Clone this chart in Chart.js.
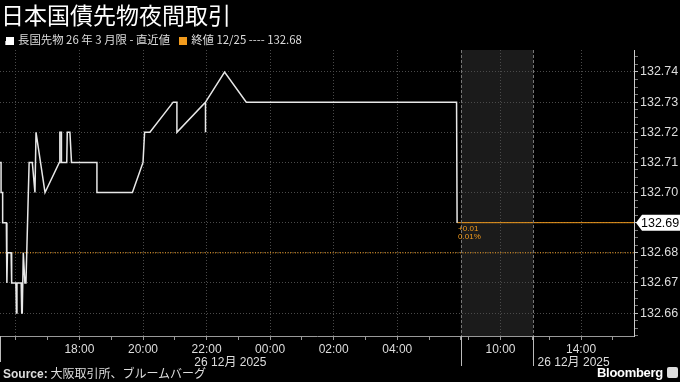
<!DOCTYPE html>
<html>
<head>
<meta charset="utf-8">
<script src="https://cdn.jsdelivr.net/npm/chart.js@4.4.1/dist/chart.umd.min.js"></script>
<style>
  html, body { margin:0; padding:0; background:#000; }
  #wrap { position:relative; width:680px; height:382px; overflow:hidden; background:#000; }
  #stage { position:absolute; left:0; top:0; }
  #title { position:absolute; left:1px; top:0px; font-family:"Noto Sans CJK JP", sans-serif; font-size:23px; line-height:28px; color:#fff; white-space:nowrap; }
  #legend { position:absolute; left:3px; top:32px; font-family:"Noto Sans CJK JP", sans-serif; font-size:11.4px; line-height:15px; color:#ddd; white-space:nowrap; }
  #legend .ic1 { display:inline-block; width:8px; height:8px; background:#fff; margin:0 4px 0 3px; vertical-align:-1px; box-shadow:-3px 2px 0 -2px #aaa; }
  #legend .ic2 { display:inline-block; width:8px; height:8px; background:#f29b1d; margin:0 4px 0 9px; vertical-align:-1px; }
  #source { position:absolute; left:3px; top:366px; font-family:"Noto Sans CJK JP", sans-serif; font-size:12px; line-height:14px; color:#ddd; white-space:nowrap; }
  #source b { font-family:"Liberation Sans", Arial, sans-serif; font-weight:bold; }
  #bbg { position:absolute; left:597px; top:365px; font-family:"Liberation Sans", Arial, sans-serif; font-weight:bold; font-size:13px; line-height:16px; color:#fff; letter-spacing:-0.3px; }
  #bbg span { display:inline-block; width:11px; height:11px; background:#ddd; border-radius:2px; margin-left:4px; vertical-align:-1px; }
</style>
</head>
<body>
<div id="wrap">
  <canvas id="stage" width="680" height="382"></canvas>
  <div id="title">日本国債先物夜間取引</div>
  <div id="legend"><span class="ic1"></span>長国先物 26 年 3 月限 - 直近値<span class="ic2"></span>終値 12/25 ---- 132.68</div>
  <div id="source"><b>Source:</b> 大阪取引所、ブルームバーグ</div>
  <div id="bbg">Bloomberg<span></span></div>
</div>
<script>
// データ（夜間取引 12/25 15:30 〜 12/26 06:00）
var times = ['15:30','15:32','15:32','15:35','15:35','15:42','15:43','15:44','15:51','15:52',
             '16:00','16:01','16:02','16:10','16:11','16:12','16:14','16:15','16:17','16:19',
             '16:25','16:31','16:36','16:38','16:55','17:22','17:23','17:26','17:26','17:36',
             '17:37','17:42','17:45','18:33','18:33','19:40','20:00','20:03','20:13','20:57',
             '21:04','21:04','21:58','21:58','21:58','22:34','23:15','05:52','05:53'];
var values = [132.71,132.71,132.70,132.70,132.69,132.69,132.67,132.68,132.68,132.67,
              132.67,132.66,132.67,132.67,132.66,132.66,132.68,132.68,132.67,132.67,
              132.71,132.71,132.70,132.72,132.70,132.71,132.72,132.72,132.71,132.71,
              132.72,132.72,132.71,132.71,132.70,132.70,132.71,132.72,132.72,132.73,
              132.73,132.72,132.73,132.72,132.73,132.74,132.73,132.73,132.69];
var prevClose = 132.68;   // 終値 12/25

// 軸
var yTicks = [132.66,132.67,132.68,132.69,132.70,132.71,132.72,132.73,132.74];
var yMin = 132.6524, yMax = 132.7473;
var nightTickTimes = ['16:00','17:00','18:00','19:00','20:00','21:00','22:00','23:00','00:00','01:00','02:00','03:00','04:00','05:00','06:00'];
var dayTickTimes = ['09:00','10:00','11:00','13:00','14:00','15:00'];
var xLabels = ['18:00','20:00','22:00','00:00','02:00','04:00','10:00','14:00'];
var xGrid = ['16:00','18:00','20:00','22:00','00:00','02:00','04:00','10:00','14:00'];
var dateLabel = '26 12月 2025';

var orange = '#f29b1d';

function hrs(t) {
   var p = t.split(':');
   return Number(p[0]) + Number(p[1]) / 60;
}
// 夜間: 16:00 = 0
function nightPos(t) {
   var h = hrs(t);
   return h >= 12 ? h - 16 : h + 8;
}
// 日中: 08:45 から続けて、昼休み (11:02-12:30) は詰める
function dayPos(t) {
   var h = hrs(t);
   var morning = hrs('11:02') - hrs('08:45');
   return h < 12 ? 14 + (h - hrs('08:45')) : 14 + morning + (h - hrs('12:30'));
}

var xMin = nightPos('15:30');
var xMax = dayPos('15:40');
var nightEnd = nightPos('06:00');
var amEnd = dayPos('11:02');
var pmEnd = dayPos('15:02');

var xTickInfo = [];
nightTickTimes.forEach(function(t){
   xTickInfo.push({value: nightPos(t), label: xLabels.indexOf(t) >= 0 ? t : '', grid: xGrid.indexOf(t) >= 0});
});
dayTickTimes.forEach(function(t){
   xTickInfo.push({value: dayPos(t), label: xLabels.indexOf(t) >= 0 ? t : '', grid: xGrid.indexOf(t) >= 0});
});

// 目盛（0.01 ごと + 間に細かい目盛）
var yTickInfo = [];
for (var i = 0; i < yTicks.length; i++) {
   yTickInfo.push({value: yTicks[i], major: true});
   for (var k = 1; k < 4; k++) {
      var up = yTicks[i] + k * 0.0025;
      var dn = yTicks[i] - k * 0.0025;
      if (up <= yMax) yTickInfo.push({value: up, major: false});
      if (i == 0 && dn >= yMin) yTickInfo.push({value: dn, major: false});
   }
}
yTickInfo.sort(function(a, b){ return a.value - b.value; });

var lineData = times.map(function(t, i){ return {x: nightPos(t), y: values[i]}; });
var last = lineData[lineData.length - 1];

var decor = {
   id: 'decor',
   beforeDraw: function(chart) {
      var c = chart.ctx, a = chart.chartArea, xs = chart.scales.x;
      c.save();
      c.fillStyle = '#000';
      c.fillRect(0, 0, chart.width, chart.height);
      // 日中前場の網掛け
      c.fillStyle = '#1b1b1b';
      var x1 = xs.getPixelForValue(nightEnd), x2 = xs.getPixelForValue(amEnd);
      c.fillRect(x1, a.top, x2 - x1, a.bottom - a.top);
      c.restore();
   },
   afterDraw: function(chart) {
      var c = chart.ctx, a = chart.chartArea, xs = chart.scales.x, ys = chart.scales.y;
      c.save();
      // セッションの区切り
      [nightEnd, amEnd].forEach(function(v){
         var px = Math.round(xs.getPixelForValue(v)) + 0.5;
         c.strokeStyle = '#777';
         c.lineWidth = 1;
         c.setLineDash([3, 2]);
         c.beginPath(); c.moveTo(px, a.top); c.lineTo(px, a.bottom); c.stroke();
         c.setLineDash([]);
         c.strokeStyle = '#bbb';
         c.beginPath(); c.moveTo(px, a.bottom); c.lineTo(px, 366); c.stroke();
      });
      c.strokeStyle = '#bbb';
      c.beginPath(); c.moveTo(0.5, a.bottom); c.lineTo(0.5, 362); c.stroke();

      // 日付ラベル
      c.fillStyle = '#ddd';
      c.font = '12px "Liberation Sans", "Noto Sans CJK JP", sans-serif';
      c.textAlign = 'center';
      c.textBaseline = 'middle';
      c.fillText(dateLabel, (xs.getPixelForValue(xMin) + xs.getPixelForValue(nightEnd)) / 2, 363);
      c.fillText(dateLabel, (xs.getPixelForValue(amEnd) + xs.getPixelForValue(pmEnd)) / 2, 363);

      // 変化幅
      var lx = xs.getPixelForValue(last.x), ly = ys.getPixelForValue(last.y);
      var chg = last.y - prevClose;
      c.fillStyle = orange;
      c.font = '8px "Liberation Sans", Arial, sans-serif';
      c.textAlign = 'left';
      c.fillText((chg >= 0 ? '+' : '') + chg.toFixed(2), lx + 1, ly + 6);
      c.fillText((chg / prevClose * 100).toFixed(2) + '%', lx + 1, ly + 14);

      // 直近値タグ
      var tx = a.right + 2;
      c.fillStyle = '#fff';
      c.beginPath();
      c.moveTo(tx, ly);
      c.lineTo(tx + 6, ly - 8);
      c.lineTo(chart.width, ly - 8);
      c.lineTo(chart.width, ly + 8);
      c.lineTo(tx + 6, ly + 8);
      c.closePath();
      c.fill();
      c.fillStyle = '#000';
      c.font = '12.5px "Liberation Sans", Arial, sans-serif';
      c.fillText(last.y.toFixed(2), a.right + 7, ly + 1);
      c.restore();
   }
};

var canvas = document.getElementById('stage');
var chart = new Chart(canvas, {
   type: 'line',
   data: {
      datasets: [
         {
            data: lineData,
            borderColor: '#e8e8e8',
            borderWidth: 1.5,
            pointRadius: 0,
            tension: 0,
            order: 1
         },
         {
            data: [{x: xMin, y: prevClose}, {x: xMax, y: prevClose}],
            borderColor: orange,
            borderWidth: 1,
            borderDash: [1, 1.5],
            pointRadius: 0,
            order: 2
         },
         {
            data: [{x: last.x, y: last.y}, {x: xMax, y: last.y}],
            borderColor: orange,
            borderWidth: 1,
            pointRadius: 0,
            order: 2
         }
      ]
   },
   options: {
      responsive: false,
      animation: false,
      events: [],
      layout: { padding: { top: 50, left: 0, right: 0, bottom: 0 } },
      plugins: { legend: { display: false }, tooltip: { enabled: false } },
      scales: {
         x: {
            type: 'linear',
            min: xMin,
            max: xMax,
            afterBuildTicks: function(scale) {
               scale.ticks = xTickInfo.map(function(t){ return {value: t.value}; });
            },
            afterFit: function(scale) { scale.height = 46; },
            ticks: {
               autoSkip: false,
               maxRotation: 0,
               padding: 2,
               color: '#ddd',
               font: { family: '"Liberation Sans", Arial, sans-serif', size: 12 },
               callback: function(v, i) { return xTickInfo[i] ? xTickInfo[i].label : ''; }
            },
            grid: {
               color: function(ctx) { var t = xTickInfo[ctx.index]; return t && t.grid ? '#4a4a4a' : 'rgba(0,0,0,0)'; },
               lineWidth: 1,
               drawTicks: true,
               tickLength: 4,
               tickColor: '#999'
            },
            border: { display: true, color: '#999', width: 1, dash: [1, 2] }
         },
         y: {
            type: 'linear',
            position: 'right',
            min: yMin,
            max: yMax,
            afterBuildTicks: function(scale) {
               scale.ticks = yTickInfo.map(function(t){ return {value: t.value}; });
            },
            afterFit: function(scale) { scale.width = 46; },
            ticks: {
               autoSkip: false,
               padding: 2,
               color: '#ddd',
               font: { family: '"Liberation Sans", Arial, sans-serif', size: 12.5 },
               callback: function(v, i) { return yTickInfo[i] && yTickInfo[i].major ? v.toFixed(2) : ''; }
            },
            grid: {
               color: function(ctx) { var t = yTickInfo[ctx.index]; return t && t.major ? '#4a4a4a' : 'rgba(0,0,0,0)'; },
               lineWidth: 1,
               drawTicks: true,
               tickLength: 4,
               tickColor: function(ctx) { var t = yTickInfo[ctx.index]; return t && t.major ? '#bbb' : '#777'; }
            },
            border: { display: true, color: '#ccc', width: 1, dash: [1, 2] }
         }
      }
   },
   plugins: [decor]
});
</script>
</body>
</html>
